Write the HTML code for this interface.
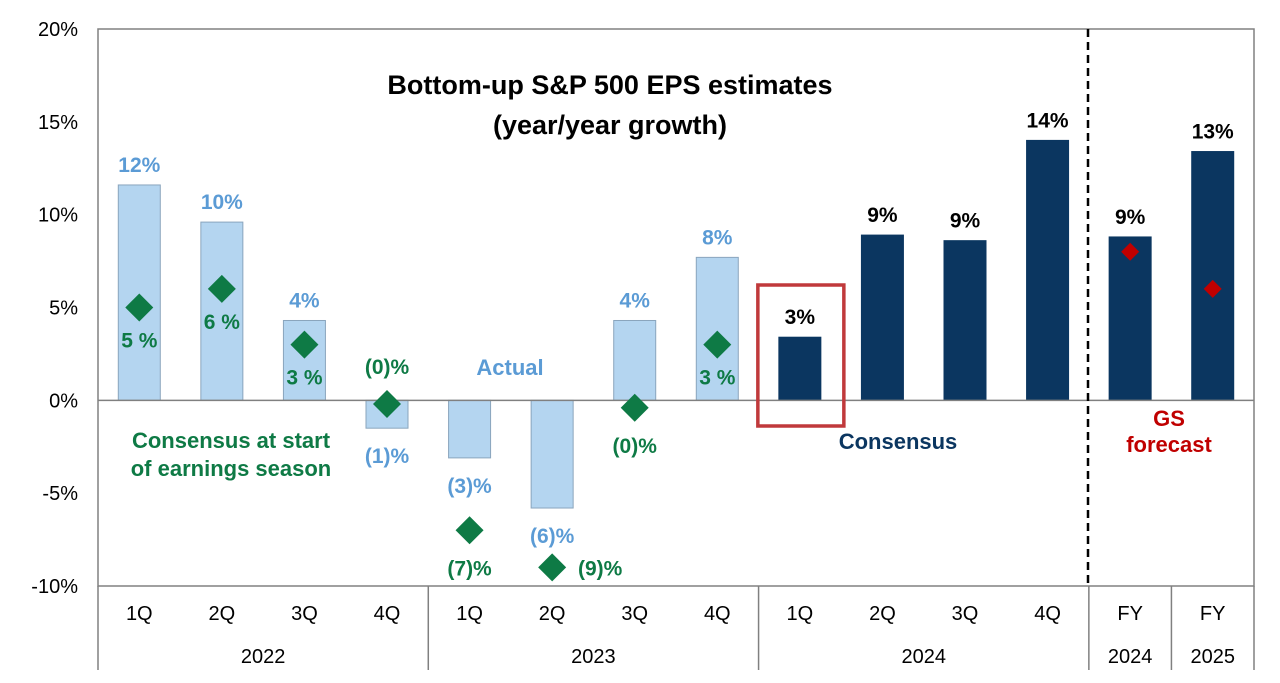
<!DOCTYPE html>
<html><head><meta charset="utf-8"><style>
body{margin:0;background:#fff;font-family:"Liberation Sans",Arial,sans-serif}
svg text{font-family:"Liberation Sans",Arial,sans-serif}
</style></head><body>
<svg id="c" width="1280" height="678" viewBox="0 0 1280 678" xmlns="http://www.w3.org/2000/svg"></svg>
<script>
const categories=["1Q","2Q","3Q","4Q","1Q","2Q","3Q","4Q","1Q","2Q","3Q","4Q","FY","FY"];
const years=["2022","2023","2024","2024","2025"];
const barValues=[11.6,9.6,4.3,-1.5,-3.1,-5.8,4.3,7.7,3.4,8.9,8.6,14.0,8.8,13.4];
const barLabels=["12%","10%","4%","(1)%","(3)%","(6)%","4%","8%","3%","9%","9%","14%","9%","13%"];
const consensusValues=[5,6,3,-0.2,-7,-9,-0.4,3];
const consensusLabels=["5 %","6 %","3 %","(0)%","(7)%","(9)%","(0)%","3 %"];
const gsValues=[8,6];
const yTicks=[20,15,10,5,0,-5,-10];
const yTickLabels=["20%","15%","10%","5%","0%","-5%","-10%"];

const svg=document.getElementById('c');
const NS="http://www.w3.org/2000/svg";
const L=98,R=1254,T=29,B=586,yMax=20,yMin=-10;
const cw=(R-L)/categories.length;
function y(v){return T+(yMax-v)/(yMax-yMin)*(B-T);}
function x(i){return L+cw*(i+0.5);}
function el(tag,attrs,txt){const e=document.createElementNS(NS,tag);for(const k in attrs)e.setAttribute(k,attrs[k]);if(txt!==undefined)e.textContent=txt;svg.appendChild(e);return e;}
const BLUE="#5b9bd5",NAVY="#0b3660",GREEN="#0e7a45",RED="#c00000";

// frame
let f=el('rect',{x:L,y:T,width:R-L,height:B-T,fill:'none',stroke:'#808080','stroke-width':1.5});

// y ticks
yTicks.forEach((t,i)=>{let e=el('text',{x:78,y:y(t)+7,'text-anchor':'end','font-size':20,fill:'#000'},yTickLabels[i]);
});
// bars
barValues.forEach((v,i)=>{
 const dark=i>=8;
 const top=Math.min(y(v),y(0)),h=Math.abs(y(v)-y(0));
 let b=el('rect',{x:x(i)-21,y:top,width:42,height:h,fill:dark?NAVY:'#b4d5f0',stroke:dark?NAVY:'#8aa5bd','stroke-width':1});
 
 const ly=v>=0?y(v)-13:y(v)+35;
 let t=el('text',{x:x(i),y:ly,'text-anchor':'middle','font-size':21,'font-weight':'bold',fill:dark?'#000':BLUE},barLabels[i]);
 
});
// zero line
let z=el('line',{x1:L,x2:R,y1:y(0),y2:y(0),stroke:'#808080','stroke-width':1.5});

// consensus diamonds
const cOff=[[0,40],[0,40],[0,40],[0,-30],[0,45],[48,8],[0,45],[0,40]];
consensusValues.forEach((v,i)=>{
 const cx=x(i),cy=y(v),s=14;
 let d=el('polygon',{points:`${cx},${cy-s} ${cx+s},${cy} ${cx},${cy+s} ${cx-s},${cy}`,fill:GREEN});
 
 let t=el('text',{x:cx+cOff[i][0],y:cy+cOff[i][1],'text-anchor':'middle','font-size':21,'font-weight':'bold',fill:GREEN},consensusLabels[i]);
 
});
// GS diamonds
gsValues.forEach((v,i)=>{
 const cx=x(12+i),cy=y(v),s=9;
 let d=el('polygon',{points:`${cx},${cy-s} ${cx+s},${cy} ${cx},${cy+s} ${cx-s},${cy}`,fill:RED});
 
});
// highlight box
let hb=el('rect',{x:x(8)-42,y:285,width:86,height:141,fill:'none',stroke:'#c0393b','stroke-width':3.5});

// dashed divider
let dl=el('line',{x1:1088,x2:1088,y1:T,y2:B,stroke:'#000','stroke-width':2.5,'stroke-dasharray':'8,5'});

// title
let t1=el('text',{x:610,y:94,'text-anchor':'middle','font-size':27,'font-weight':'bold',fill:'#000'},'Bottom-up S&P 500 EPS estimates');

let t2=el('text',{x:610,y:134,'text-anchor':'middle','font-size':27,'font-weight':'bold',fill:'#000'},'(year/year growth)');

// annotations
const ann=[[510,375,'Actual',BLUE,'actual-annotation'],[898,449,'Consensus',NAVY,'consensus-annotation'],[231,448,'Consensus at start',GREEN,'consensus-start-annotation'],[231,476,'of earnings season',GREEN,'consensus-start-annotation'],[1169,426,'GS',RED,'gs-annotation'],[1169,452,'forecast',RED,'gs-annotation']];
ann.forEach(a=>{let e=el('text',{x:a[0],y:a[1],'text-anchor':'middle','font-size':22,'font-weight':'bold',fill:a[3]},a[2]);
});
// x axis
categories.forEach((c,i)=>{let e=el('text',{x:x(i),y:620,'text-anchor':'middle','font-size':20,fill:'#000'},c);
});
const groupEdges=[[0,4],[4,8],[8,12],[12,13],[13,14]];
groupEdges.forEach((g,i)=>{
 let e=el('text',{x:(L+g[0]*cw+L+g[1]*cw)/2,y:663,'text-anchor':'middle','font-size':20,fill:'#000'},years[i]);
 
});
[0,4,8,12,13,14].forEach(k=>{let e=el('line',{x1:L+k*cw,x2:L+k*cw,y1:B,y2:670,stroke:'#808080','stroke-width':1.5});
});
</script>
</body></html>
